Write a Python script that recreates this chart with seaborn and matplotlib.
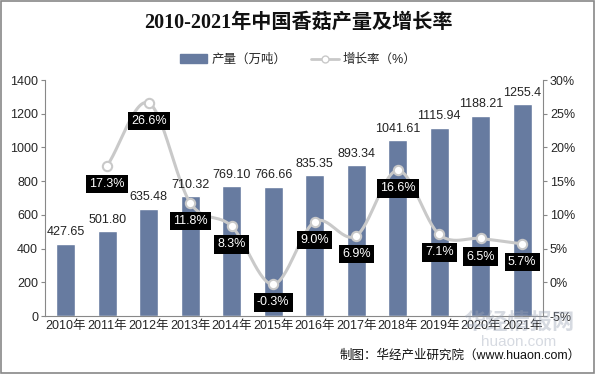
import numpy as np
import pandas as pd
import seaborn as sns
import matplotlib.pyplot as plt
from matplotlib.patches import Rectangle
from matplotlib.lines import Line2D
from matplotlib.patches import Patch

years = ['2010年', '2011年', '2012年', '2013年', '2014年', '2015年',
         '2016年', '2017年', '2018年', '2019年', '2020年', '2021年']
output = [427.65, 501.80, 635.48, 710.32, 769.10, 766.66,
          835.35, 893.34, 1041.61, 1115.94, 1188.21, 1255.4]
output_labels = ['427.65', '501.80', '635.48', '710.32', '769.10', '766.66',
                 '835.35', '893.34', '1041.61', '1115.94', '1188.21', '1255.4']
growth = [np.nan, 17.3, 26.6, 11.8, 8.3, -0.3, 9.0, 6.9, 16.6, 7.1, 6.5, 5.7]

sns.set_style('white')
plt.rcParams['font.family'] = ['Liberation Sans', 'Noto Sans CJK SC', 'DejaVu Sans']

bar_color = '#677ba0'
line_color = '#c9c9c9'

df = pd.DataFrame({'year': years, 'output': output, 'growth': growth})

fig = plt.figure(figsize=(5.96, 3.74), dpi=100)
ax = fig.add_axes([0.0755, 0.155, 0.8355, 0.631])

sns.barplot(x='year', y='output', data=df, ax=ax, color=bar_color,
            width=0.46, saturation=1)
ax.set_ylim(0, 1400)
ax.set_xlim(-0.5, 11.5)
ax.set_yticks(range(0, 1401, 200))
ax.set_xlabel('')
ax.set_ylabel('')
ax.tick_params(axis='y', labelsize=9, length=3, color='#888888', pad=2)
ax.tick_params(axis='x', labelsize=9, length=0, pad=3)
ax.set_xticks(np.arange(-0.5, 12, 1), minor=True)
ax.tick_params(axis='x', which='minor', length=4, color='#888888')
for s in ['top', 'right']:
    ax.spines[s].set_visible(False)
for s in ['left', 'bottom']:
    ax.spines[s].set_color('#888888')
    ax.spines[s].set_linewidth(0.8)

ax2 = ax.twinx()
ax2.set_ylim(-5, 30)
ax2.set_yticks(range(-5, 31, 5))
ax2.set_yticklabels([f'{t}%' for t in range(-5, 31, 5)])
ax2.tick_params(axis='y', labelsize=9, length=3, color='#888888', pad=2)
for s in ['top', 'left', 'bottom']:
    ax2.spines[s].set_visible(False)
ax2.spines['right'].set_color('#888888')
ax2.spines['right'].set_linewidth(0.8)

# smooth line through growth points (Catmull-Rom)
gx = np.array([i for i, g in enumerate(growth) if not np.isnan(g)], dtype=float)
gy = np.array([g for g in growth if not np.isnan(g)])
px = np.concatenate([[2 * gx[0] - gx[1]], gx, [2 * gx[-1] - gx[-2]]])
py = np.concatenate([[2 * gy[0] - gy[1]], gy, [2 * gy[-1] - gy[-2]]])
sx, sy = [], []
t = np.linspace(0, 1, 30)
for k in range(1, len(px) - 2):
    for arr, out in ((px, sx), (py, sy)):
        p0, p1, p2, p3 = arr[k - 1], arr[k], arr[k + 1], arr[k + 2]
        out.extend(0.5 * ((2 * p1) + (-p0 + p2) * t +
                          (2 * p0 - 5 * p1 + 4 * p2 - p3) * t ** 2 +
                          (-p0 + 3 * p1 - 3 * p2 + p3) * t ** 3))
ax2.plot(sx, sy, color=line_color, lw=2.2, zorder=3)
sns.scatterplot(x=gx, y=gy, ax=ax2, s=45, color='white', edgecolor=line_color,
                linewidth=1.5, zorder=4)

# bar value labels, drawn on top of the line
for i, (v, t) in enumerate(zip(output, output_labels)):
    ax2.annotate(t, (i, v), xycoords=ax.transData, xytext=(0, 4),
                 textcoords='offset points', ha='center', va='bottom',
                 fontsize=9, color='#222222', zorder=6)

for x, y in zip(gx, gy):
    ax2.annotate(f'{y:.1f}%', (x, y), xytext=(0, -13), textcoords='offset points',
                 ha='center', va='center', fontsize=9, color='white', zorder=5,
                 bbox=dict(boxstyle='square,pad=0.25', fc='black', ec='none'))

fig.text(0.5, 0.94, '2010-2021年中国香菇产量及增长率', ha='center', va='center',
         fontsize=14.5, fontweight='bold', color='#111111',
         family=['Liberation Serif', 'Noto Sans CJK SC'])

handles = [Patch(color=bar_color),
           Line2D([0], [0], color=line_color, lw=2, marker='o', markersize=5,
                  markerfacecolor='white', markeredgecolor=line_color)]
fig.legend(handles, ['产量（万吨）', '增长率（%）'], loc='center', ncol=2,
           bbox_to_anchor=(0.5, 0.84), frameon=False, fontsize=9,
           handlelength=2.2, handletextpad=0.3, columnspacing=2.0)

# watermark
fig.text(0.87, 0.135, '华经情报网', ha='center', va='center', fontsize=16,
         fontweight='bold', color='#9aa3b5', alpha=0.4)
fig.text(0.87, 0.085, 'huaon.com', ha='center', va='center', fontsize=11,
         color='#9aa3b5', alpha=0.4)

fig.text(0.975, 0.05, '制图：华经产业研究院（www.huaon.com）', ha='right',
         va='center', fontsize=9, color='#111111')

fig.patches.append(Rectangle((0.002, 0.003), 0.995, 0.993, transform=fig.transFigure,
                             fill=False, ec='#888888', lw=1.2))

fig.savefig('out.png', dpi=100)
